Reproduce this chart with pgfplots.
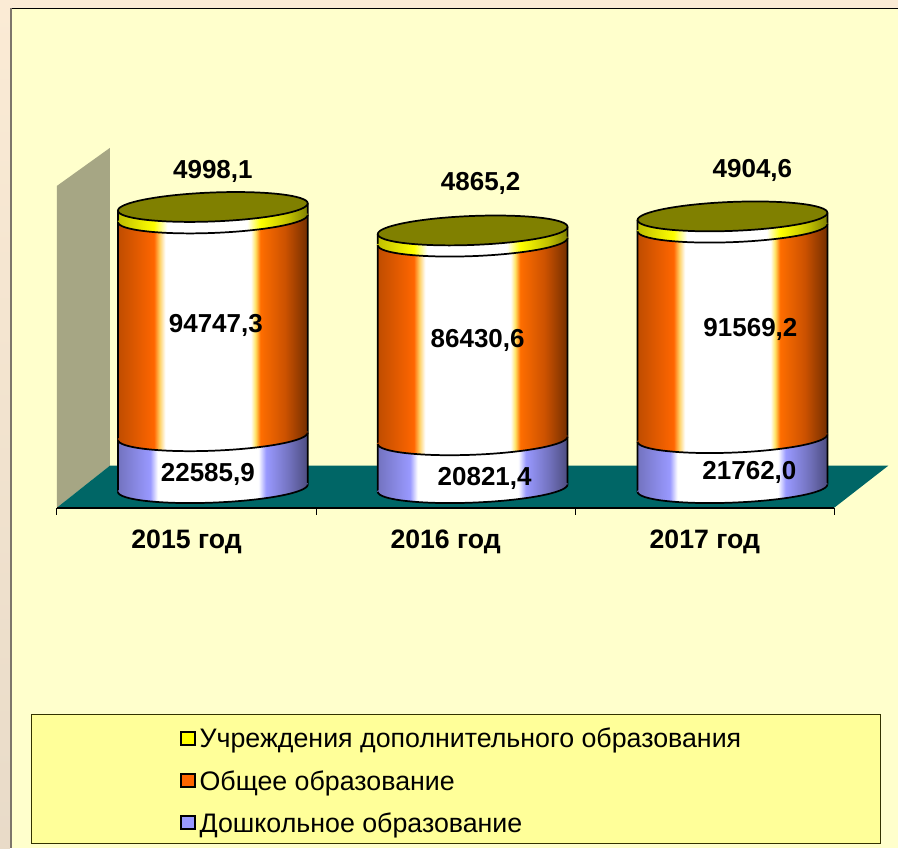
\documentclass[border=0pt]{standalone}
\usepackage{fontspec}
\setmainfont{Liberation Sans}
\usepackage{pgfplots}
\pgfplotsset{compat=1.18}
\usetikzlibrary{shadings}
\definecolor{bgin}{HTML}{FFFFCC}
\definecolor{bgout}{HTML}{FBEBD5}
\definecolor{wallc}{HTML}{A6A684}
\definecolor{floorc}{HTML}{006666}
\definecolor{legc}{HTML}{FFFF99}
\definecolor{cor}{HTML}{FF6600}
\definecolor{cbl}{HTML}{9999FF}
\definecolor{cye}{HTML}{FFFF00}
\definecolor{olv}{HTML}{808000}
\pgfdeclarehorizontalshading{cylorange}{100bp}{color(0bp)=(cor!75!black);color(25bp)=(cor!75!black);color(34.5bp)=(cor);color(36bp)=(cor!50!yellow!60!white);color(37.5bp)=(white);color(60bp)=(white);color(61.2bp)=(cor!30!yellow!60!white);color(62.5bp)=(cor!95!yellow);color(69bp)=(cor!80!black);color(75bp)=(cor!45!black);color(100bp)=(cor!45!black)}
\pgfdeclarehorizontalshading{cylblue}{100bp}{color(0bp)=(cbl!75!black);color(25bp)=(cbl!75!black);color(33.5bp)=(cbl);color(35.5bp)=(white);color(62bp)=(white);color(64bp)=(cbl);color(70bp)=(cbl!75!black);color(75bp)=(cbl!50!black);color(100bp)=(cbl!50!black)}
\pgfdeclarehorizontalshading{cylyellow}{100bp}{color(0bp)=(cye!75!black);color(25bp)=(cye!75!black);color(34.5bp)=(cye);color(38bp)=(white);color(59bp)=(white);color(62.5bp)=(cye);color(70bp)=(cye!75!black);color(75bp)=(cye!50!black);color(100bp)=(cye!50!black)}
\newcommand{\declarearc}[2]{%
  \pgfdeclareplotmark{#1}{%
    \begin{scope}
    \clip (-71.25pt,1pt) -- (-71.25pt,0pt) arc[start angle=180,end angle=360,x radius=71.25pt,y radius=10.875pt] -- (71.25pt,1pt) -- cycle;
    \shade[shading=#2,draw=none] (-71.25pt,-12pt) rectangle (71.25pt,2pt);
    \end{scope}
  }}
\declarearc{arcblue}{cylblue}
\declarearc{arcorange}{cylorange}
\declarearc{arcyellow}{cylyellow}
\pgfdeclareplotmark{arcline}{%
  \pgfpathmoveto{\pgfqpoint{-71.25pt}{0pt}}%
  \pgfpatharc{180}{360}{71.25pt and 10.875pt}%
  \pgfusepathqstroke
}
\pgfdeclareplotmark{topell}{%
  \pgfpathellipse{\pgfpointorigin}{\pgfqpoint{71.25pt}{0pt}}{\pgfqpoint{0pt}{10.875pt}}%
  \pgfusepathqfillstroke
}
\pgfplotsset{
  base/.style={
    at={(42.75pt,255.75pt)},anchor=south west,
    scale only axis,width=583.5pt,height=270pt,
    xmin=0,xmax=3,ymin=-8478,ymax=148043,clip=false,
    ytick=\empty,
  },
  cylaxis/.style={base,hide axis,ybar stacked,reverse stacked plots=false,bar width=142.5pt,bar shift=0pt},
  seg/.style={/tikz/shade,/tikz/shading=#1,forget plot,/tikz/draw opacity=0,/tikz/line width=0pt},
  mk/.style={stack plots=false,only marks,mark=#1,forget plot,mark options={draw=none,draw opacity=0}},
  ln/.style={stack plots=false,only marks,mark=arcline,forget plot,mark options={draw=black,line width=1.3pt,solid}},
  sideline/.style={stack plots=false,black,line width=1.3pt,sharp plot,forget plot},
}
\newcommand{\cyl}[9]{%
  \addplot[mk=arcblue] coordinates {(#1,0)};
  \addplot[seg=cylblue] coordinates {(#1,#2)};
  \addplot[ln] coordinates {(#1,0)};
  \addplot[mk=arcorange] coordinates {(#1,#5)};
  \addplot[seg=cylorange] coordinates {(#1,#3)};
  \addplot[ln] coordinates {(#1,#5)};
  \addplot[mk=arcyellow] coordinates {(#1,#6)};
  \addplot[seg=cylyellow] coordinates {(#1,#4)};
  \addplot[ln] coordinates {(#1,#6)};
  \addplot[sideline] coordinates {(#8,0)(#8,#7)};
  \addplot[sideline] coordinates {(#9,0)(#9,#7)};
  \addplot[stack plots=false,only marks,mark=topell,forget plot,mark options={draw=black,fill=olv,line width=1.3pt,solid}] coordinates {(#1,#7)};
}
\begin{document}
\begin{tikzpicture}
\begin{scope}[x=0.75pt,y=-0.75pt,yshift=636.75pt]
  \fill[bgout] (0,0) rectangle (899,849);
  \shade[top color=bgout,bottom color=bgout!85!gray] (0,0) rectangle (10,849);
  \fill[bgin] (11,9) rectangle (899,849);
  \draw[black,line width=1pt] (11,8.5) -- (899,8.5);
  \draw[black!50!bgout,line width=1.5pt] (11,8) -- (11,849);
  \fill[wallc] (57,186) -- (110,148) -- (110,466) -- (57,508) -- cycle;
  \fill[floorc] (57,508) -- (110,466) -- (889,466) -- (835,508) -- cycle;
  \draw[fill=legc,draw=black!60!olv,line width=0.75pt] (31.5,715.5) rectangle (881.5,844.5);
\end{scope}
\begin{axis}[base,
  axis x line*=bottom,axis y line=none,
  xtick={0,1,2,3},xticklabels={},
  xtick align=outside,
  major tick length=5.25pt,
  xtick style={black,line width=0.75pt},
  extra x ticks={0.5,1.5,2.5},extra x tick labels={2015 год,2016 год,2017 год},
  extra x tick style={major tick length=0pt,tick style={draw=none}},
  x axis line style={black,line width=1.5pt,-},
  xticklabel style={font=\bfseries\fontsize{20}{24}\selectfont,yshift=-13pt},
  legend cell align=left,
  legend style={draw=none,fill=none,at={(0.1584,-0.6053)},anchor=north west,
    font=\fontsize{20.1}{24}\selectfont,row sep=11.4pt,inner sep=0pt},
  legend image code/.code={\draw[#1,draw=black,line width=1.5pt] (0pt,-4.5pt) rectangle (10.5pt,5.5pt); \path (11.5pt,0pt);},
]
\addlegendimage{fill=cye}\addlegendentry{Учреждения дополнительного образования}
\addlegendimage{fill=cor}\addlegendentry{Общее образование}
\addlegendimage{fill=cbl}\addlegendentry{Дошкольное образование}
\end{axis}
\begin{scope}[transform canvas={cm={1,0.038,0,1,(0pt,-6.07pt)}}]
\begin{axis}[cylaxis]
\cyl{0.6015}{22585.9}{94747.3}{4998.1}{22585.9}{117333.2}{122331.3}{0.2352}{0.9678}
\end{axis}
\end{scope}
\begin{scope}[transform canvas={cm={1,0.038,0,1,(0pt,-13.48pt)}}]
\begin{axis}[cylaxis]
\cyl{1.6041}{20821.4}{86430.6}{4865.2}{20821.4}{107252.0}{112117.2}{1.2378}{1.9704}
\end{axis}
\end{scope}
\begin{scope}[transform canvas={cm={1,0.038,0,1,(0pt,-20.89pt)}}]
\begin{axis}[cylaxis]
\cyl{2.6067}{21762.0}{91569.2}{4904.6}{21762.0}{113331.2}{118235.8}{2.2404}{2.9730}
\end{axis}
\end{scope}
\begin{scope}[x=0.75pt,y=-0.75pt,yshift=634.5pt,every node/.style={font=\bfseries\fontsize{19.5}{23}\selectfont,inner sep=0pt}]
  \node at (213,169) {4998,1};
  \node at (216,323) {94747,3};
  \node at (208,472) {22585,9};
  \node at (481,181) {4865,2};
  \node at (478,338) {86430,6};
  \node at (485,476) {20821,4};
  \node at (753,168) {4904,6};
  \node at (751,327) {91569,2};
  \node at (750,470) {21762,0};
\end{scope}
\end{tikzpicture}
\end{document}
